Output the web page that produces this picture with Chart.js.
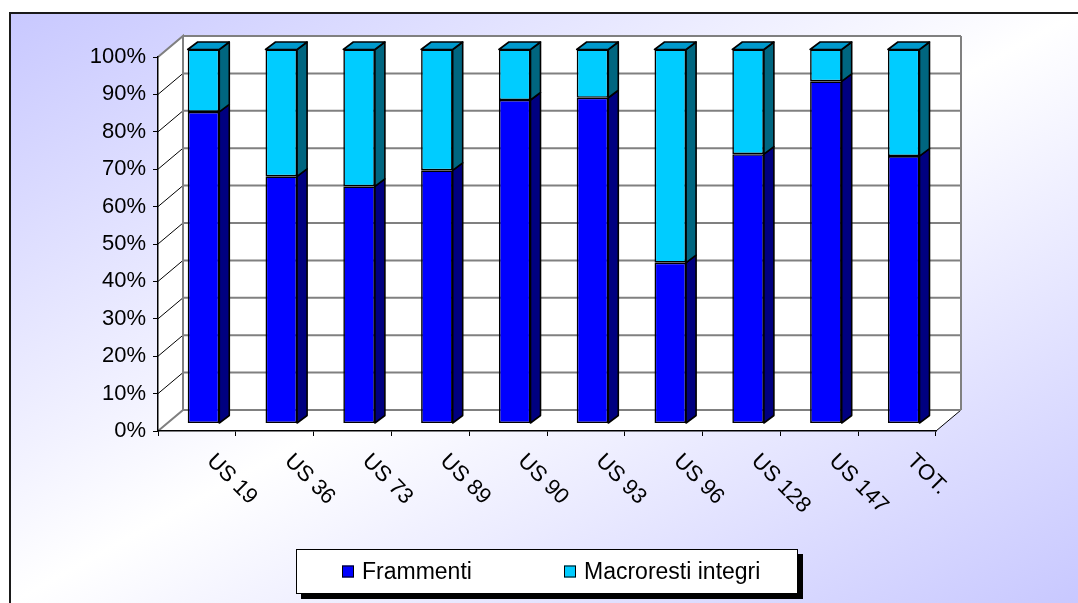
<!DOCTYPE html>
<html>
<head>
<meta charset="utf-8">
<script src="https://cdn.jsdelivr.net/npm/chart.js@4/dist/chart.umd.min.js"></script>
<style>
  html, body { margin: 0; padding: 0; background: #fff; }
  #c { display: block; }
</style>
</head>
<body>
<canvas id="c" width="1078" height="603"></canvas>
<script>
// ---- data ----
const categories = ['US 19', 'US 36', 'US 73', 'US 89', 'US 90', 'US 93', 'US 96', 'US 128', 'US 147', 'TOT.'];
const frammenti  = [83.3, 66.1, 63.4, 67.7, 86.5, 87.1, 43.0, 72.0, 91.5, 71.5];
const macroresti = [16.7, 33.9, 36.6, 32.3, 13.5, 12.9, 57.0, 28.0, 8.5, 28.5];
const seriesNames = ['Frammenti', 'Macroresti integri'];
const yTickValues = [0, 10, 20, 30, 40, 50, 60, 70, 80, 90, 100];

// ---- look ----
const FAMILY = '"Liberation Sans", Arial, sans-serif';
const FONT = '22px ' + FAMILY;
const LEGEND_FONT = '23px ' + FAMILY;
const frontColors = ['#0000ff', '#00ccff'];
const sideColors  = ['#000080', '#006680'];
const topColors   = ['#000099', '#0099cc'];

// oblique depth of the walls, of the bar row and of each bar
const WALL_DX = 25, WALL_DY = -21;
const ROW_DX = 6.6, ROW_DY = -7.5;
const BAR_DX = 10, BAR_DY = -7.5;

function ytick(v) { return v + '%'; }

// background, frame and the white 3D walls with their grid
const wallsPlugin = {
  id: 'walls',
  beforeDraw(chart) {
    const ctx = chart.ctx;
    const ca = chart.chartArea;
    const ys = chart.scales.y;
    ctx.save();
    // frame background
    const g = ctx.createLinearGradient(294, -144, 794, 760);
    g.addColorStop(0, '#c8c8ff');
    g.addColorStop(0.5, '#ffffff');
    g.addColorStop(1, '#c8c8ff');
    ctx.fillStyle = g;
    ctx.fillRect(10, 13, 1068, 590);
    ctx.strokeStyle = '#1a1a1a';
    ctx.lineWidth = 2;
    ctx.beginPath();
    ctx.moveTo(10, 603); ctx.lineTo(10, 13); ctx.lineTo(1078, 13);
    ctx.stroke();

    const y0 = ys.getPixelForValue(0), y100 = ys.getPixelForValue(100);
    const L = ca.left, R = ca.right;
    // wall surfaces
    ctx.fillStyle = '#ffffff';
    ctx.beginPath();
    ctx.moveTo(L, y100);
    ctx.lineTo(L + WALL_DX, y100 + WALL_DY);
    ctx.lineTo(R + WALL_DX, y100 + WALL_DY);
    ctx.lineTo(R + WALL_DX, y0 + WALL_DY);
    ctx.lineTo(R, y0);
    ctx.lineTo(L, y0);
    ctx.closePath();
    ctx.fill();

    // side-wall grid (dark, thin)
    ctx.strokeStyle = '#000000';
    ctx.lineWidth = 1;
    yTickValues.forEach(v => {
      if (v === 0 || v === 100) return;
      const y = ys.getPixelForValue(v);
      ctx.beginPath();
      ctx.moveTo(L, y); ctx.lineTo(L + WALL_DX, y + WALL_DY);
      ctx.stroke();
    });
    // floor right edge
    ctx.beginPath();
    ctx.moveTo(R, y0); ctx.lineTo(R + WALL_DX, y0 + WALL_DY);
    ctx.stroke();

    // back-wall grid and wall edges (grey)
    ctx.strokeStyle = '#808080';
    ctx.lineWidth = 2;
    yTickValues.forEach(v => {
      const y = ys.getPixelForValue(v) + WALL_DY;
      ctx.beginPath();
      ctx.moveTo(L + WALL_DX, y); ctx.lineTo(R + WALL_DX, y);
      ctx.stroke();
    });
    ctx.beginPath();
    ctx.moveTo(L, y100); ctx.lineTo(L + WALL_DX, y100 + WALL_DY);
    ctx.lineTo(L + WALL_DX, y0 + WALL_DY); ctx.lineTo(L, y0);
    ctx.stroke();
    ctx.beginPath();
    ctx.moveTo(R + WALL_DX, y100 + WALL_DY); ctx.lineTo(R + WALL_DX, y0 + WALL_DY);
    ctx.stroke();
    ctx.restore();
  }
};

// bars sit in a plane behind the axis plane; add their side and top faces
const barsPlugin = {
  id: 'bars3d',
  beforeDatasetsDraw(chart) {
    chart.ctx.save();
    chart.ctx.translate(ROW_DX, ROW_DY);
  },
  afterDatasetsDraw(chart) {
    const ctx = chart.ctx;
    const n = chart.data.datasets.length;
    ctx.lineWidth = 1.6;
    ctx.strokeStyle = '#000000';
    ctx.lineJoin = 'round';
    for (let d = 0; d < n; d++) {
      const meta = chart.getDatasetMeta(d);
      meta.data.forEach(bar => {
        const p = bar.getProps(['x', 'y', 'base', 'width'], true);
        const x2 = p.x + p.width / 2, x1 = p.x - p.width / 2;
        const top = Math.min(p.y, p.base), bot = Math.max(p.y, p.base);
        ctx.fillStyle = sideColors[d];
        ctx.beginPath();
        ctx.moveTo(x2, top); ctx.lineTo(x2 + BAR_DX, top + BAR_DY);
        ctx.lineTo(x2 + BAR_DX, bot + BAR_DY); ctx.lineTo(x2, bot);
        ctx.closePath(); ctx.fill(); ctx.stroke();
        if (d === n - 1) {
          ctx.fillStyle = topColors[d];
          ctx.beginPath();
          ctx.moveTo(x1, top); ctx.lineTo(x1 + BAR_DX, top + BAR_DY);
          ctx.lineTo(x2 + BAR_DX, top + BAR_DY); ctx.lineTo(x2, top);
          ctx.closePath(); ctx.fill(); ctx.stroke();
        }
      });
    }
    ctx.restore();
  }
};

// slanted category labels and the boxed legend
const labelsPlugin = {
  id: 'labelsLegend',
  afterDraw(chart) {
    const ctx = chart.ctx;
    const xs = chart.scales.x;
    ctx.save();
    ctx.font = FONT;
    ctx.fillStyle = '#000';
    ctx.textAlign = 'left';
    ctx.textBaseline = 'alphabetic';
    chart.data.labels.forEach((lab, i) => {
      const x = xs.getPixelForValue(i);
      ctx.save();
      ctx.translate(x + 9, 462);
      ctx.rotate(Math.PI / 4);
      ctx.fillText(lab, 0, 0);
      ctx.restore();
    });

    // legend
    const bx = 296, by = 549, bw = 502, bh = 45;
    ctx.fillStyle = '#000';
    ctx.fillRect(bx + 5, by + 5, bw, bh);
    ctx.fillStyle = '#fff';
    ctx.fillRect(bx, by, bw, bh);
    ctx.strokeStyle = '#000';
    ctx.lineWidth = 1;
    ctx.strokeRect(bx + 0.5, by + 0.5, bw - 1, bh - 1);
    ctx.font = LEGEND_FONT;
    const itemX = [342, 564];
    const cy = by + bh / 2;
    chart.data.datasets.forEach((ds, i) => {
      ctx.fillStyle = ds.backgroundColor;
      ctx.fillRect(itemX[i], cy - 6, 12, 12);
      ctx.strokeStyle = '#000';
      ctx.strokeRect(itemX[i] + 0.5, cy - 5.5, 11, 11);
      ctx.fillStyle = '#000';
      ctx.textBaseline = 'middle';
      ctx.fillText(ds.label, itemX[i] + 20, cy + 1);
    });
    ctx.restore();
  }
};

new Chart(document.getElementById('c'), {
  type: 'bar',
  data: {
    labels: categories,
    datasets: [
      { label: seriesNames[0], data: frammenti, backgroundColor: frontColors[0],
        borderColor: '#000', borderWidth: 1.6, borderSkipped: false, clip: false },
      { label: seriesNames[1], data: macroresti, backgroundColor: frontColors[1],
        borderColor: '#000', borderWidth: 1.6, borderSkipped: false, clip: false }
    ]
  },
  options: {
    responsive: false,
    animation: false,
    devicePixelRatio: 1,
    layout: { padding: { top: 57, left: 10, right: 142, bottom: 0 } },
    categoryPercentage: 1,
    barPercentage: 0.406,
    plugins: { legend: { display: false }, tooltip: { enabled: false } },
    scales: {
      x: {
        stacked: true,
        offset: true,
        grid: { display: true, drawOnChartArea: false, drawTicks: true, tickLength: 5, color: '#000', offset: true },
        border: { display: true, color: '#000', width: 1.5 },
        ticks: { display: false },
        afterFit(s) { s.height = 172; }
      },
      y: {
        stacked: true,
        min: 0, max: 100,
        afterBuildTicks(s) { s.ticks = yTickValues.map(v => ({ value: v })); },
        grid: { display: true, drawOnChartArea: false, drawTicks: true, tickLength: 5, color: '#000' },
        border: { display: true, color: '#000', width: 1.5 },
        ticks: { color: '#000', font: { family: FAMILY, size: 22 }, padding: 7, callback: ytick },
        afterFit(s) { s.width = 148; }
      }
    }
  },
  plugins: [wallsPlugin, barsPlugin, labelsPlugin]
});
</script>
</body>
</html>
